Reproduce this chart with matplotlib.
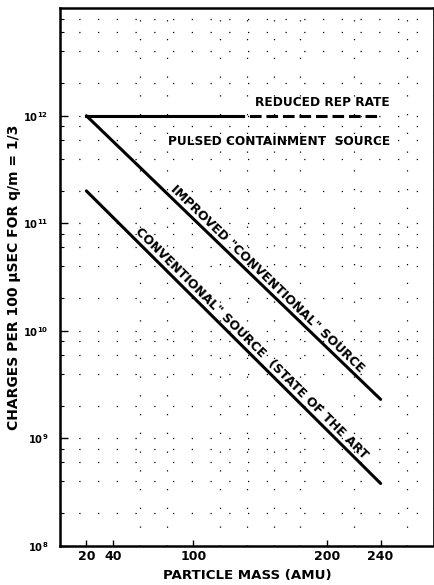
import numpy as np
import matplotlib
matplotlib.use("Agg")
import matplotlib.pyplot as plt
from matplotlib.ticker import LogLocator, FixedLocator, MultipleLocator, NullFormatter

# particle mass (AMU) and charges per 100 usec
mass_improved = [20, 240]
charges_improved = [1.0e12, 2.3e9]

mass_conventional = [20, 240]
charges_conventional = [2.0e11, 3.8e8]

mass_pulsed_solid = [20, 130]
charges_pulsed_solid = [1.0e12, 1.0e12]
mass_pulsed_dashed = [130, 240]
charges_pulsed_dashed = [1.0e12, 1.0e12]

x_ticks = [20, 40, 100, 200, 240]
y_decades = [8, 9, 10, 11, 12]

plt.rcParams["font.family"] = ["DejaVu Sans"]

fig = plt.figure(figsize=(4.35, 5.85), dpi=100)
ax = fig.add_axes([0.137, 0.067, 0.861, 0.919])

ax.set_yscale("log")
ax.set_xlim(0, 280)
ax.set_ylim(1e8, 1e13)

# curves
ax.plot(mass_improved, charges_improved, color="black", lw=2.2, solid_capstyle="round")
ax.plot(mass_conventional, charges_conventional, color="black", lw=2.2, solid_capstyle="round")
ax.plot(mass_pulsed_solid, charges_pulsed_solid, color="black", lw=2.2)
ax.plot(mass_pulsed_dashed, charges_pulsed_dashed, color="black", lw=2.2, linestyle=(0, (3.8, 1.6)))

# ticks
ax.xaxis.set_major_locator(FixedLocator(x_ticks))
ax.xaxis.set_minor_locator(MultipleLocator(20))
ax.set_xticklabels([str(t) for t in x_ticks], fontsize=9, fontweight="bold")
ax.tick_params(axis="x", which="major", direction="in", length=4, width=1, pad=3)
ax.tick_params(axis="x", which="minor", length=0)

ax.yaxis.set_major_locator(FixedLocator([10.0 ** e for e in y_decades]))
ax.set_yticklabels([f"$\\mathbf{{10^{{{e}}}}}$" for e in y_decades], fontsize=7.2)
ax.yaxis.set_minor_locator(LogLocator(base=10, subs=(2, 4, 6, 8)))
ax.yaxis.set_minor_formatter(NullFormatter())
ax.tick_params(axis="y", which="major", direction="in", length=6, width=1, pad=8)
ax.tick_params(axis="y", which="minor", direction="in", length=3, width=0.8)
ax.tick_params(top=False, right=False)

# dotted grid
ax.grid(True, which="minor", axis="x", color="black", lw=0.9, linestyle=(0, (1, 14)))
ax.grid(True, which="both", axis="y", color="black", lw=0.9, linestyle=(0, (1, 14)))

for side in ["left", "top", "bottom"]:
    ax.spines[side].set_linewidth(1.8)
ax.spines["right"].set_linewidth(1.2)

ax.set_xlabel("PARTICLE MASS (AMU)", fontsize=9.6, fontweight="bold", labelpad=4)
ax.set_ylabel("CHARGES PER 100 \u03bcSEC FOR q/m = 1/3", fontsize=10, fontweight="bold")
ax.yaxis.set_label_coords(-0.102, 0.5)


def screen_angle(xs, ys):
    p = ax.transData.transform(np.column_stack([xs, ys]))
    return np.degrees(np.arctan2(p[1, 1] - p[0, 1], p[1, 0] - p[0, 0]))


def point_on_line(xs, ys, x):
    ly = np.interp(x, xs, np.log10(ys))
    return x, 10 ** ly


# labels
ax.text(247, 1.15e12, "REDUCED REP RATE", ha="right", va="bottom", fontsize=8.7, fontweight="bold")
ax.text(247, 5.0e11, "PULSED CONTAINMENT  SOURCE", ha="right", va="bottom", fontsize=8.7, fontweight="bold")

ang = screen_angle(mass_improved, charges_improved)
px, py = point_on_line(mass_improved, charges_improved, 152)
ax.text(px, py * 1.05, 'IMPROVED "CONVENTIONAL" SOURCE', rotation=ang, rotation_mode="anchor",
        ha="center", va="bottom", fontsize=9, fontweight="bold")

ang = screen_angle(mass_conventional, charges_conventional)
px, py = point_on_line(mass_conventional, charges_conventional, 140)
ax.text(px, py * 1.05, 'CONVENTIONAL" SOURCE  (STATE OF THE ART', rotation=ang, rotation_mode="anchor",
        ha="center", va="bottom", fontsize=9, fontweight="bold")

fig.savefig("out.png", dpi=100, facecolor="white")
